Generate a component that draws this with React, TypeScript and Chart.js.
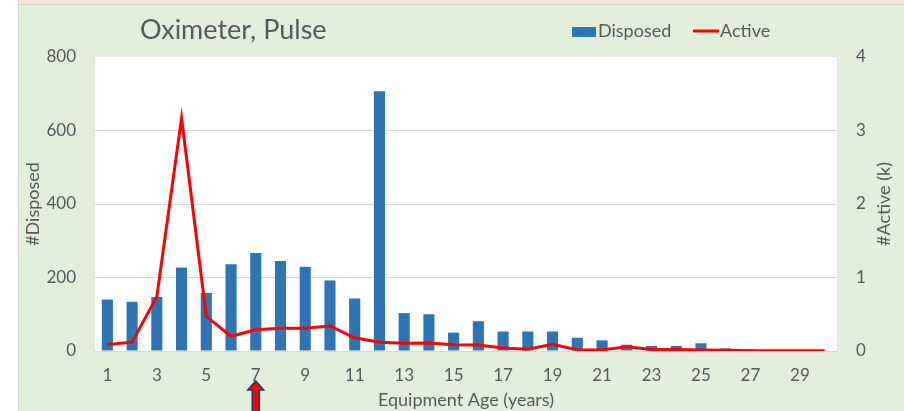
import { useEffect, useRef } from 'react';
import { Chart, registerables } from 'chart.js';

Chart.register(...registerables);

const ageLabels = ['1','2','3','4','5','6','7','8','9','10','11','12','13','14','15','16','17','18','19','20','21','22','23','24','25','26','27','28','29','30'];
const disposed = [140,134,147,227,158,236,267,245,229,192,143,707,103,100,50,81,53,53,53,36,29,17,14,14,21,7,4,1,0,0];
const activeK = [0.09,0.12,0.74,3.17,0.47,0.2,0.29,0.31,0.31,0.34,0.18,0.12,0.105,0.11,0.085,0.08,0.04,0.025,0.09,0.015,0.015,0.058,0.022,0.02,0.015,0.01,0.004,0.003,0.003,0.003];
const titleText = 'Oximeter, Pulse';
const xTitle = 'Equipment Age (years)';
const yLeftTitle = '#Disposed';
const yRightTitle = '#Active (k)';
const arrowCategoryIndex = 6; // age 7

const FONT = 'Lato, "Open Sans", sans-serif';
const TXT = '#595959';
const BLUE = '#2E75B6';
const RED = '#FF0000';

const decorPlugin = {
  id: 'decor',
  beforeDraw(chart: any) {
    const { ctx, width, height, chartArea } = chart;
    ctx.save();
    ctx.fillStyle = '#FFFFFF';
    ctx.fillRect(0, 0, width, height);
    ctx.fillStyle = '#E2EFDA';
    ctx.fillRect(19, 5, width - 19, height - 5);
    ctx.fillStyle = '#FBE4D5';
    ctx.fillRect(19, 0, width - 19, 4);
    ctx.fillStyle = '#D6D6D6';
    ctx.fillRect(19, 4, width - 19, 1);
    ctx.fillRect(18, 0, 1, height);
    ctx.fillStyle = '#FFFFFF';
    ctx.fillRect(chartArea.left, chartArea.top, chartArea.right - chartArea.left, chartArea.bottom - chartArea.top);
    ctx.restore();
  },
  afterDraw(chart: any) {
    const { ctx } = chart;
    ctx.save();
    // title
    ctx.fillStyle = TXT;
    ctx.textBaseline = 'alphabetic';
    ctx.textAlign = 'left';
    ctx.font = `27px ${FONT}`;
    ctx.fillText(titleText, 140, 39);
    // legend
    const ds = chart.data.datasets;
    ctx.fillStyle = BLUE;
    ctx.fillRect(572, 27, 24, 10);
    ctx.font = `18px ${FONT}`;
    ctx.fillStyle = TXT;
    ctx.fillText(ds[0].label, 598, 37);
    ctx.strokeStyle = RED;
    ctx.lineWidth = 3;
    ctx.beginPath();
    ctx.moveTo(693, 31);
    ctx.lineTo(719, 31);
    ctx.stroke();
    ctx.fillText(ds[1].label, 720, 37);
    // right axis title (reads bottom to top)
    const y1 = chart.scales.y1;
    ctx.translate(884, (y1.top + y1.bottom) / 2);
    ctx.rotate(-Math.PI / 2);
    ctx.textAlign = 'center';
    ctx.textBaseline = 'middle';
    ctx.font = `18px ${FONT}`;
    ctx.fillText(yRightTitle, 0, 0);
    ctx.restore();
    // arrow
    const x = chart.scales.x.getPixelForValue(arrowCategoryIndex);
    ctx.save();
    ctx.beginPath();
    ctx.moveTo(x, 381);
    ctx.lineTo(x + 8, 390);
    ctx.lineTo(x + 3.5, 390);
    ctx.lineTo(x + 3.5, 420);
    ctx.lineTo(x - 3.5, 420);
    ctx.lineTo(x - 3.5, 390);
    ctx.lineTo(x - 8, 390);
    ctx.closePath();
    ctx.fillStyle = RED;
    ctx.fill();
    ctx.strokeStyle = '#1F3864';
    ctx.lineWidth = 1.5;
    ctx.stroke();
    ctx.restore();
  },
};

export default function App() {
  const ref = useRef<HTMLCanvasElement>(null);
  useEffect(() => {
    if (!ref.current) return;
    const chart = new Chart(ref.current, {
      type: 'bar',
      data: {
        labels: ageLabels,
        datasets: [
          {
            type: 'bar',
            label: 'Disposed',
            data: disposed,
            backgroundColor: BLUE,
            barPercentage: 0.45,
            categoryPercentage: 1,
            yAxisID: 'y',
            order: 2,
          },
          {
            type: 'line',
            label: 'Active',
            data: activeK,
            borderColor: RED,
            backgroundColor: RED,
            borderWidth: 3,
            pointRadius: 0,
            tension: 0,
            yAxisID: 'y1',
            order: 1,
          },
        ],
      },
      options: {
        responsive: false,
        animation: false,
        devicePixelRatio: 1,
        layout: { padding: { top: 57, left: 0, right: 0, bottom: 0 } },
        plugins: {
          legend: { display: false },
          title: { display: false },
          tooltip: { enabled: false },
        },
        scales: {
          x: {
            type: 'category',
            offset: true,
            grid: { display: false, drawTicks: false },
            border: { display: true, color: '#D9D9D9', width: 1 },
            ticks: {
              autoSkip: false,
              maxRotation: 0,
              padding: 14,
              color: TXT,
              font: { family: FONT, size: 17 },
              callback: (_v: any, i: number) => (i % 2 === 0 ? ageLabels[i] : ''),
            },
            title: {
              display: true,
              text: xTitle,
              color: TXT,
              font: { family: FONT, size: 18 },
              padding: { top: 0, bottom: 0 },
            },
            afterFit: (s: any) => { s.height = 60; },
          },
          y: {
            position: 'left',
            min: 0,
            max: 800,
            grid: {
              color: (c: any) => (c.tick && c.tick.value === 800 ? 'rgba(0,0,0,0)' : '#D9D9D9'),
              drawTicks: false,
            },
            border: { display: false },
            ticks: { stepSize: 200, padding: 19, color: TXT, font: { family: FONT, size: 17 } },
            title: {
              display: true,
              text: yLeftTitle,
              color: TXT,
              font: { family: FONT, size: 18 },
              padding: { top: 22, bottom: 0 },
            },
            afterFit: (s: any) => { s.width = 95; },
          },
          y1: {
            position: 'right',
            min: 0,
            max: 4,
            grid: { drawOnChartArea: false, drawTicks: false },
            border: { display: false },
            ticks: { stepSize: 1, padding: 19, color: TXT, font: { family: FONT, size: 17 } },
            afterFit: (s: any) => { s.width = 67; },
          },
        },
      },
      plugins: [decorPlugin],
    } as any);
    return () => chart.destroy();
  }, []);
  return (
    <canvas
      ref={ref}
      width={904}
      height={411}
      style={{ position: 'fixed', left: 0, top: 0, width: 904, height: 411 }}
    />
  );
}
